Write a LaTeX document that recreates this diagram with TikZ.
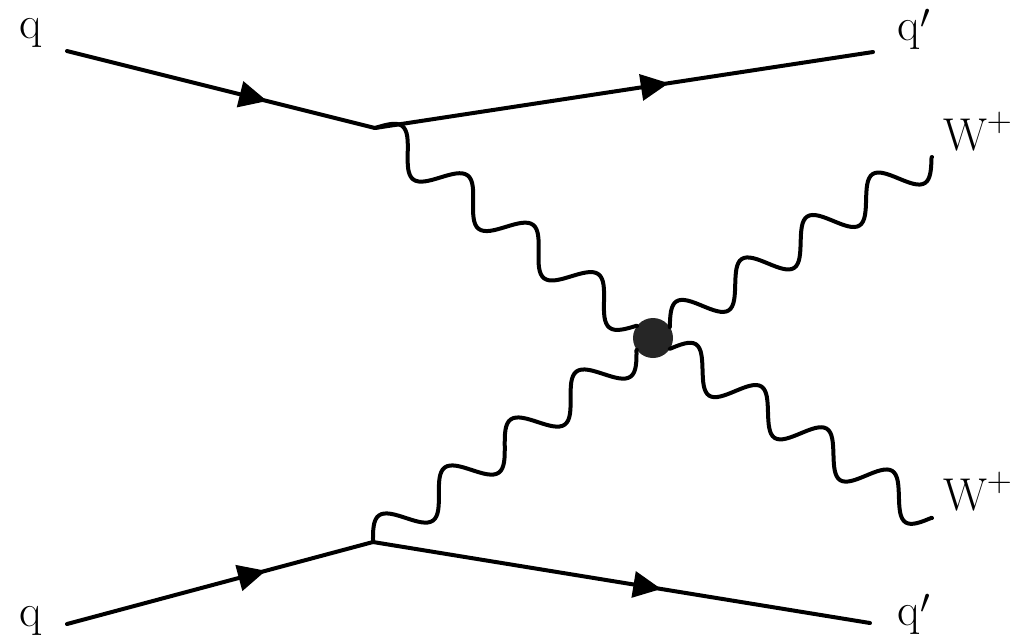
\documentclass[tikz,border=0pt]{standalone}
\usetikzlibrary{decorations.markings,decorations,arrows.meta}
\newcommand{\qprime}{q\kern0.5pt\smash{\raisebox{-0.35ex}{$'$}}}
\pgfdeclaredecoration{photonwave}{initial}{
  \state{initial}[width=\pgfdecorationsegmentlength, next state=initial]{
    \pgfpathsine{\pgfpoint{.25\pgfdecorationsegmentlength}{\pgfdecorationsegmentamplitude}}
    \pgfpathcosine{\pgfpoint{.25\pgfdecorationsegmentlength}{-\pgfdecorationsegmentamplitude}}
    \pgfpathsine{\pgfpoint{.25\pgfdecorationsegmentlength}{-\pgfdecorationsegmentamplitude}}
    \pgfpathcosine{\pgfpoint{.25\pgfdecorationsegmentlength}{\pgfdecorationsegmentamplitude}}
  }
  \state{final}{\pgfpathlineto{\pgfpointdecoratedpathlast}}
}
\begin{document}
\begin{tikzpicture}[x=0.5pt,y=-0.5pt,
  line width=2pt,
  lbl/.style={font=\fontsize{23}{26}\selectfont, inner sep=0pt},
  fermion/.style={draw, line cap=round, postaction={decorate},
    decoration={markings, mark=at position #1 with {\arrow{Triangle[length=14pt,width=13pt]}}}},
  photon/.style={draw, line cap=round, line join=round, decorate,
    decoration={photonwave, amplitude=9pt, segment length=#1}},
  blob/.style={circle, fill=black!85, minimum size=20pt, inner sep=0pt, outer sep=0pt}]
\useasboundingbox (0,0) rectangle (1026,639);
% points
\coordinate (a1) at (67,51);
\coordinate (v1) at (375,128);
\coordinate (e1) at (873,52);
\coordinate (a2) at (67,624);
\coordinate (v2) at (373,542);
\coordinate (e2) at (870,623);
\coordinate (w1) at (932,157);
\coordinate (w2) at (932,518);
\node[blob] (b) at (653,338) {};
% fermions
\draw[fermion=0.65] (a1) -- (v1);
\draw[fermion=0.59] (v1) -- (e1);
\draw[fermion=0.65] (a2) -- (v2);
\draw[fermion=0.58] (v2) -- (e2);
% photons (4 periods each)
\draw[photon=41.0pt] (v1) -- (b);
\draw[photon=40.75pt] (v2) -- (b);
\draw[photon=39.0pt] (b) -- (w1);
\draw[photon=38.95pt] (b) -- (w2);
% labels
\node[lbl, anchor=base] (lq1) at (31,38) {q};
\node[lbl, anchor=base west] (lq2) at (895,40) {\qprime};
\node[lbl, anchor=base west] (lw1) at (941,150) {W$^{+}$};
\node[lbl, anchor=base west] (lw2) at (941,510) {W$^{+}$};
\node[lbl, anchor=base] (lq3) at (31,626) {q};
\node[lbl, anchor=base west] (lq4) at (895,625) {\qprime};
\end{tikzpicture}
\end{document}
